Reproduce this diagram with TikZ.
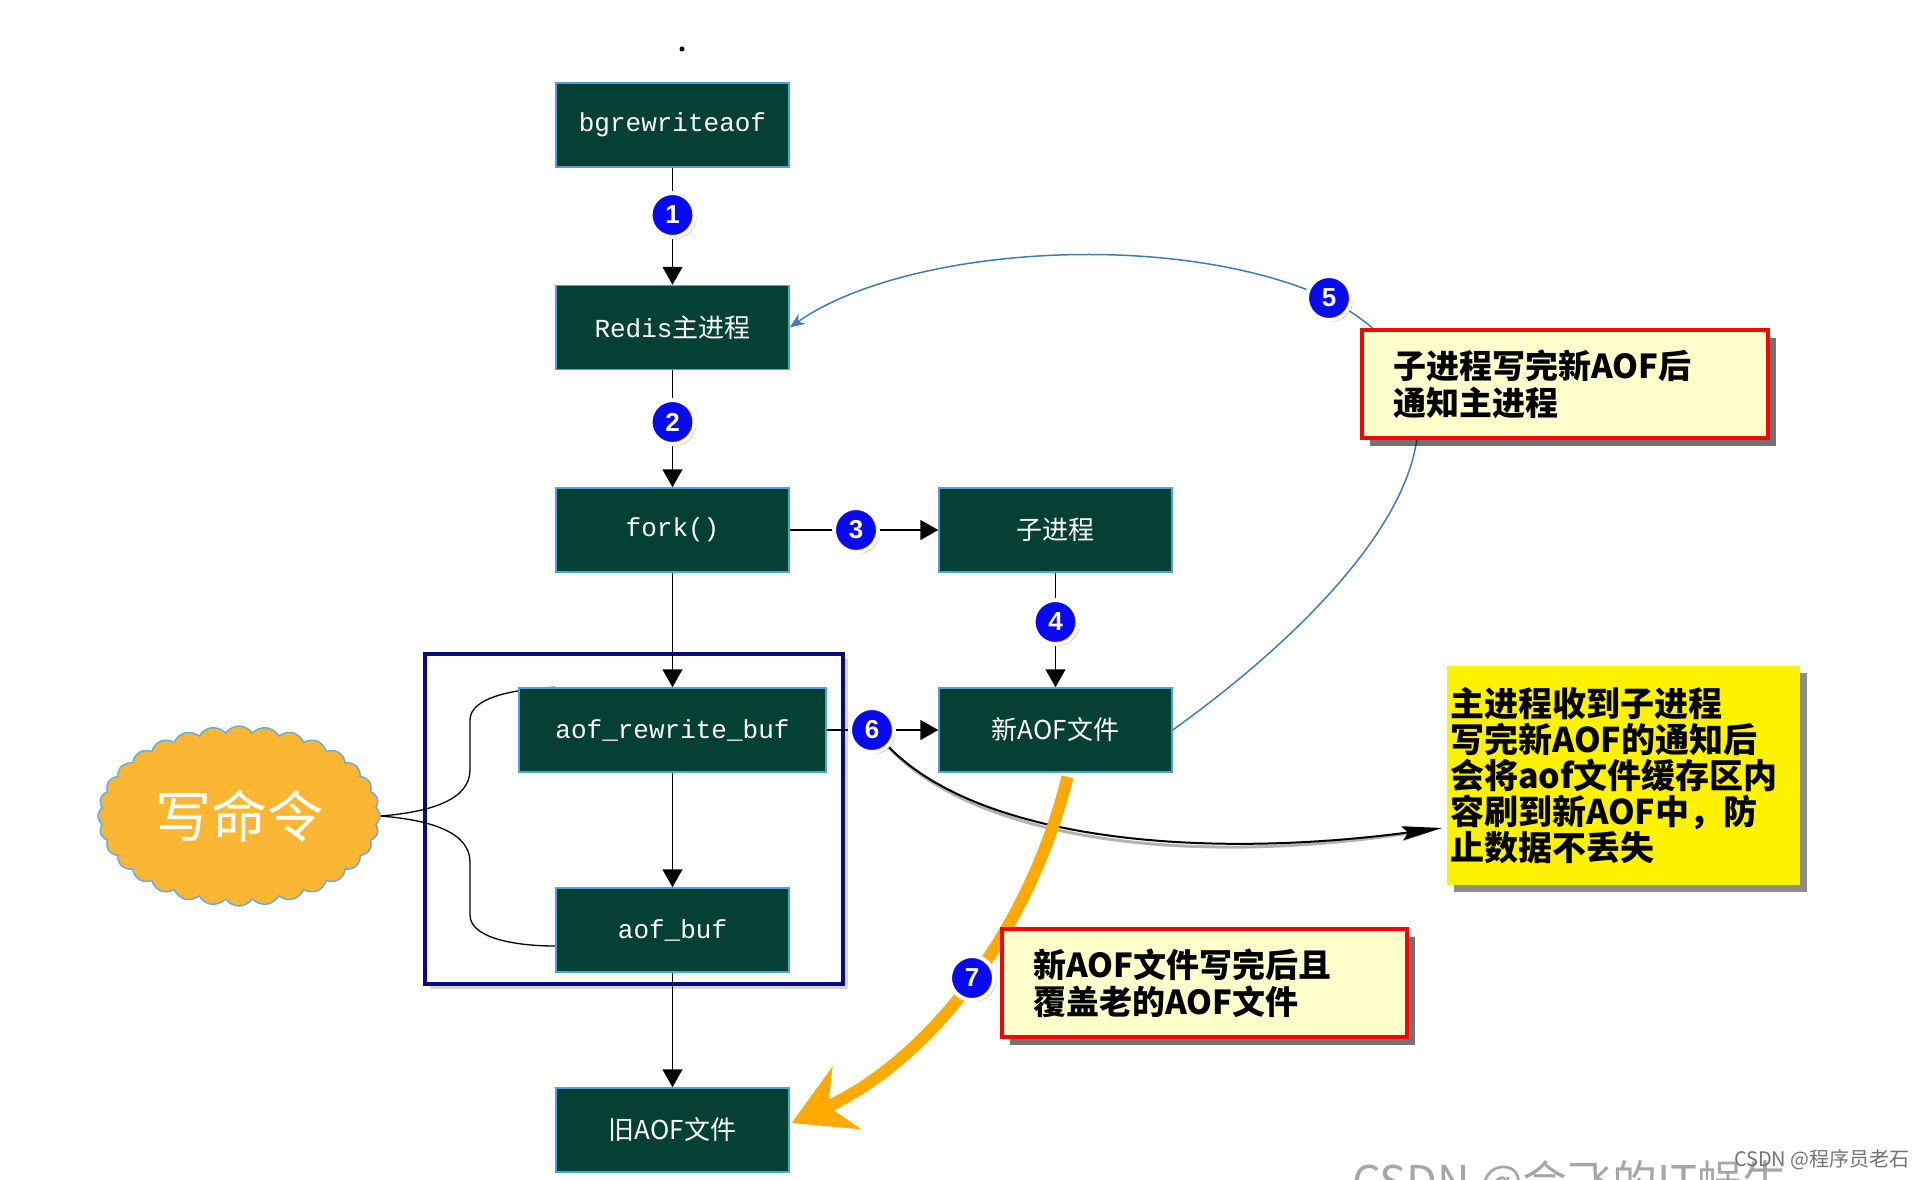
\documentclass[tikz,border=0pt]{standalone}
\usepackage{fontspec}
\newfontfamily\cjk{Noto Sans CJK SC}
\newfontfamily\monof{Liberation Mono}
\newfontfamily\numf{Liberation Sans}
\usetikzlibrary{shapes.symbols,shadows,arrows.meta,calc}
\pgfdeclarelayer{back}
\pgfdeclarelayer{bg}
\pgfsetlayers{back,bg,main}
\definecolor{boxfill}{RGB}{4,64,52}
\definecolor{boxedge}{RGB}{80,160,220}
\definecolor{numblue}{RGB}{10,10,240}
\definecolor{noteyellow}{RGB}{255,255,204}
\definecolor{cloudorange}{RGB}{251,183,52}
\definecolor{cloudedge}{RGB}{110,170,215}
\definecolor{curveblue}{RGB}{60,125,180}
\definecolor{arrorange}{RGB}{255,170,0}
\definecolor{framenavy}{RGB}{10,10,130}
\begin{document}
\begin{tikzpicture}[x=1pt,y=-1pt,
 box/.style={draw=boxedge,line width=1.5pt,fill=boxfill,text=white,minimum width=233pt,minimum height=84pt,inner sep=0pt,font=\fontsize{26}{30}\selectfont},
 num/.style={circle,fill=numblue,draw=white,line width=4pt,minimum size=44pt,inner sep=0pt,text=white,font=\numf\bfseries\fontsize{26}{26}\selectfont,drop shadow={shadow xshift=2pt,shadow yshift=-2pt,opacity=0.45}},
 conn/.style={line width=1.6pt},
 arr/.style={conn,-{Triangle[length=18pt,width=20pt]}},
 note/.style={draw=red,line width=4pt,fill=noteyellow,text=black,align=left,inner ysep=0pt,minimum height=108pt,inner xsep=31pt,font=\cjk\bfseries\fontsize{33}{37}\selectfont,drop shadow={shadow xshift=8pt,shadow yshift=-8pt,fill=black,opacity=0.55}}
]
\useasboundingbox (0,0) rectangle (1924,1180);

\begin{pgfonlayer}{back}
\fill[white] (0,0) rectangle (1924,1180);
% frame around buffers
\node[draw=framenavy,line width=4pt,fill=white,minimum width=418pt,minimum height=330pt,drop shadow={shadow xshift=5pt,shadow yshift=-5pt,opacity=0.3}] (frame) at (634,819) {};
\end{pgfonlayer}

% dot
\fill (682,49) circle (2.5);

% boxes
\node[box,font=\monof\fontsize{26}{30}\selectfont] (bgre) at (672.5,125) {bgrewriteaof};
\node[box] (redis) at (672.5,327.5) {{\monof Redis}{\cjk 主进程}};
\node[box,font=\monof\fontsize{26}{30}\selectfont] (fork) at (672.5,530) {fork()};
\node[box,font=\cjk\fontsize{26}{30}\selectfont] (child) at (1055.5,530) {子进程};
\node[box,minimum width=307pt,font=\monof\fontsize{26}{30}\selectfont] (arb) at (672.5,730) {aof\_rewrite\_buf};
\node[box,font=\cjk\fontsize{26}{30}\selectfont] (newaof) at (1055.5,730) {新AOF文件};
\node[box,font=\monof\fontsize{26}{30}\selectfont] (aofbuf) at (672.5,930) {aof\_buf};
\node[box,font=\cjk\fontsize{26}{30}\selectfont] (oldaof) at (672.5,1130) {旧AOF文件};

% cloud
\node[cloud,cloud puffs=32,cloud puff arc=110,cloud ignores aspect,minimum width=282pt,minimum height=180pt,fill=cloudorange,draw=cloudedge,line width=1.5pt,text=white,font=\cjk\fontsize{56}{60}\selectfont] (cloud) at (239,816) {写命令};

% numbered circles
\node[num] (c1) at (672.5,215) {1};
\node[num] (c2) at (672.5,422) {2};
\node[num] (c3) at (856,530) {3};
\node[num] (c4) at (1055.5,622) {4};
\node[num] (c5) at (1329,298) {5};
\node[num] (c6) at (872,730) {6};
\node[num] (c7) at (972,978) {7};

% notes
\node[note,text width=344pt] (n5) at (1565,384) {子进程写完新AOF后\\通知主进程};
\node[note,text width=343pt] (n7) at (1204.5,983) {新AOF文件写完后且\\覆盖老的AOF文件};
\node[fill=yellow,text=black,align=left,inner xsep=3pt,inner ysep=0pt,text width=347pt,minimum height=219pt,font=\cjk\bfseries\fontsize{34}{36}\selectfont,drop shadow={shadow xshift=7pt,shadow yshift=-7pt,fill=black,opacity=0.45}] (ybox) at (1623.5,775.5) {主进程收到子进程\\写完新AOF的通知后\\会将aof文件缓存区内\\容刷到新AOF中，防\\止数据不丢失};

\coordinate (t6) at (1442,828);
\coordinate (bt) at (cloud.east);

\begin{pgfonlayer}{bg}
% straight connectors
\draw[conn] (bgre) -- (c1);
\draw[arr] (c1) -- (redis);
\draw[conn] (redis) -- (c2);
\draw[arr] (c2) -- (fork);
\draw[conn] (fork) -- (c3);
\draw[arr] (c3) -- (child);
\draw[conn] (child) -- (c4);
\draw[arr] (c4) -- (newaof);
\draw[arr] (fork) -- (arb);
\draw[arr] (arb) -- (aofbuf);
\draw[arr] (aofbuf) -- (oldaof);
\draw[conn] (arb) -- (c6);
\draw[arr] (c6) -- (newaof);

% brace from cloud
\draw[line width=1.3pt] (bt) .. controls (430,812) and (470,800) .. (470,770) -- (470,720) .. controls (470,697) and (515,689) .. ($(arb.north west)+(37,0)$);
\draw[line width=1.3pt] (bt) .. controls (430,820) and (470,832) .. (470,862) -- (470,915) .. controls (470,938) and (515,946) .. ($(aofbuf.west)+(0,16)$);

% curve 5
\draw[curveblue,line width=1.5pt] (newaof.east) .. controls (1340,610) and (1520,420) .. (c5);
\draw[curveblue,line width=1.5pt,-{Stealth[length=15pt,width=12pt]}] (c5) .. controls (1150,230) and (900,250) .. (redis.east);

% curve 6 with shadow
\draw[black,opacity=0.3,line width=3pt,shift={(2,5)},-{Stealth[length=40pt,width=14pt,inset=6pt]}] (c6) .. controls (980,840) and (1200,860) .. (t6);
\draw[black,line width=2pt,-{Stealth[length=40pt,width=14pt,inset=6pt]}] (c6) .. controls (980,840) and (1200,860) .. (t6);

% orange arrow 7
\draw[arrorange,line width=12pt,-{Stealth[length=60pt,width=68pt,inset=20pt]}] ($(newaof.south)+(12,4)$) .. controls (1030,930) and (930,1060) .. ($(oldaof.east)+(2,-7)$);
\end{pgfonlayer}

% watermarks
\node[anchor=base west,text=black!35,font=\cjk\fontsize{45}{45}\selectfont,inner sep=0pt] (wm1) at (1352,1198) {CSDN @会飞的IT蜗牛};
\node[anchor=east,text=black!55,font=\cjk\fontsize{20}{22}\selectfont,inner sep=0pt] (wm2) at (1910,1160) {CSDN @程序员老石};
\end{tikzpicture}
\end{document}
